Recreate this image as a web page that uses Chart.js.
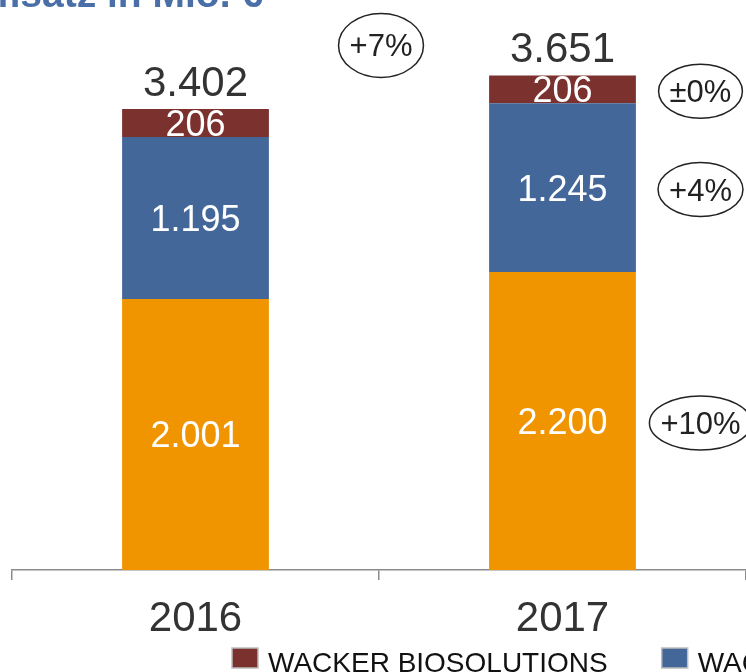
<!DOCTYPE html>
<html>
<head>
<meta charset="utf-8">
<script src="https://cdn.jsdelivr.net/npm/chart.js@4.4.0/dist/chart.umd.min.js"></script>
<style>
    html, body { margin: 0; padding: 0; background: #fff; overflow: hidden; }
    #wrap { width: 746px; height: 672px; }
</style>
</head>
<body>
<div id="wrap"><canvas id="myChart" width="746" height="672"></canvas></div>
<script>
var years = ['2016', '2017'];
var silicones = [2001, 2200];
var polymers = [1195, 1245];
var biosolutions = [206, 206];
var seriesNames = ['WACKER SILICONES', 'WACKER POLYMERS', 'WACKER BIOSOLUTIONS'];
var seriesGrowth = ['+10%', '+4%', '±0%'];
var totalGrowth = '+7%';
var chartTitle = 'Umsatz in Mio. €';

var FONT = '"Liberation Sans", Arial, sans-serif';

function fmt(v) {
    return String(v).replace(/\B(?=(\d{3})+(?!\d))/g, '.');
}

function drawBubble(ctx, text, cx, cy, ry) {
    var w = ctx.measureText(text).width;
    ctx.beginPath();
    ctx.ellipse(cx, cy, w / 2 + 11, ry, 0, 0, 2 * Math.PI);
    ctx.stroke();
    ctx.fillText(text, cx, cy + 11);
}

var labelPlugin = {
    id: 'labels',
    afterDatasetsDraw: function (chart) {
        var ctx = chart.ctx;
        var sets = chart.data.datasets;
        ctx.save();
        ctx.textAlign = 'center';
        ctx.textBaseline = 'alphabetic';

        // values inside the segments
        ctx.font = '36px ' + FONT;
        ctx.fillStyle = '#ffffff';
        sets.forEach(function (ds, i) {
            chart.getDatasetMeta(i).data.forEach(function (bar, j) {
                var mid = (bar.y + bar.base) / 2;
                ctx.fillText(fmt(ds.data[j]), bar.x, mid + 13);
            });
        });

        // totals on top
        var topMeta = chart.getDatasetMeta(sets.length - 1);
        ctx.font = '42px ' + FONT;
        ctx.fillStyle = '#333333';
        years.forEach(function (y, j) {
            var total = sets.reduce(function (s, ds) { return s + ds.data[j]; }, 0);
            ctx.fillText(fmt(total), topMeta.data[j].x, topMeta.data[j].y - 13);
        });

        // growth bubbles for the last year
        ctx.font = '31px ' + FONT;
        ctx.fillStyle = '#222222';
        ctx.strokeStyle = '#222222';
        ctx.lineWidth = 1.5;
        var last = years.length - 1;
        sets.forEach(function (ds, i) {
            var bar = chart.getDatasetMeta(i).data[last];
            drawBubble(ctx, seriesGrowth[i], bar.x + 138, (bar.y + bar.base) / 2 + 2, 27);
        });
        var x = chart.scales.x;
        var mid = (x.getPixelForValue(0) + x.getPixelForValue(1)) / 2;
        drawBubble(ctx, totalGrowth, mid + 2, topMeta.data[last].y - 30, 32);
        ctx.restore();
    },
    afterDraw: function (chart) {
        var ctx = chart.ctx;
        ctx.save();
        // title, cut off at the top edge like the source
        ctx.font = 'bold 39px ' + FONT;
        ctx.fillStyle = '#4a6fa8';
        ctx.textAlign = 'right';
        ctx.textBaseline = 'alphabetic';
        ctx.fillText(chartTitle, 263, 7);

        // legend
        ctx.font = '28px ' + FONT;
        ctx.textAlign = 'left';
        var lx = 232;
        var sets = chart.data.datasets;
        for (var i = sets.length - 1; i >= 0; i--) {
            ctx.fillStyle = sets[i].backgroundColor;
            ctx.fillRect(lx, 648, 26, 20);
            ctx.strokeStyle = '#bdbdbd';
            ctx.lineWidth = 1.5;
            ctx.strokeRect(lx, 648, 26, 20);
            ctx.fillStyle = '#111111';
            ctx.fillText(sets[i].label, lx + 36, 672);
            lx += 36 + ctx.measureText(sets[i].label).width + 54;
        }
        ctx.restore();
    }
};

var chartContext = document.getElementById('myChart').getContext('2d');
var currentChart = new Chart(chartContext, {
    type: 'bar',
    data: {
        labels: years,
        datasets: [
            { label: seriesNames[0], data: silicones, backgroundColor: '#f09400' },
            { label: seriesNames[1], data: polymers, backgroundColor: '#44679a' },
            { label: seriesNames[2], data: biosolutions, backgroundColor: '#7b312d' }
        ]
    },
    options: {
        responsive: false,
        devicePixelRatio: 1,
        animation: false,
        categoryPercentage: 1,
        barPercentage: 0.4,
        layout: { padding: { left: 12, right: 0, top: 1, bottom: 30 } },
        scales: {
            x: {
                stacked: true,
                offset: true,
                grid: { display: true, drawOnChartArea: false, drawTicks: true, tickLength: 10, color: '#8c8c8c', offset: true, lineWidth: 1.5 },
                border: { display: true, color: '#8c8c8c', width: 1.5 },
                ticks: { color: '#333333', font: { size: 42, family: FONT }, padding: 14 },
                afterFit: function (s) { s.height = 72; }
            },
            y: { display: false, stacked: true, min: 0, max: 4200 }
        },
        plugins: {
            legend: { display: false },
            tooltip: { enabled: false }
        }
    },
    plugins: [labelPlugin]
});
</script>
</body>
</html>
